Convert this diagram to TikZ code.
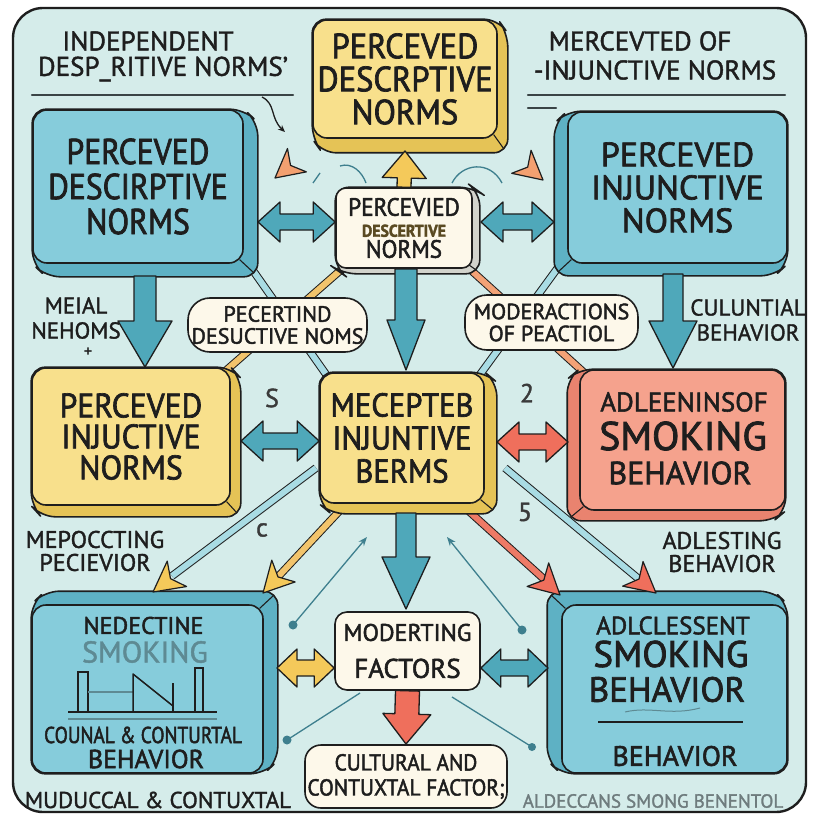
\documentclass[tikz,border=0pt]{standalone}
\usepackage{fontspec}
\setmainfont[FakeBold=1.5]{PT Sans}
\newfontfamily\wid[FakeBold=2]{PT Sans}
\newfontfamily\nar[FakeStretch=0.84,FakeBold=2]{PT Sans}
\newfontfamily\narb[FakeStretch=0.93,FakeBold=2]{PT Sans}
\newfontfamily\narc[FakeStretch=0.88,FakeBold=2]{PT Sans}
\usetikzlibrary{calc,arrows.meta}
\pgfdeclarelayer{bgl}
\pgfdeclarelayer{depthl}
\pgfsetlayers{bgl,depthl,main}

\definecolor{inkc}{HTML}{1E1E1E}
\definecolor{framebg}{HTML}{D5ECEA}
\definecolor{bluef}{HTML}{86CCDB}
\definecolor{blued}{HTML}{5EB1C4}
\definecolor{yellowf}{HTML}{F8E08C}
\definecolor{yellowd}{HTML}{E5C356}
\definecolor{redf}{HTML}{F5A28D}
\definecolor{redd}{HTML}{E9836F}
\definecolor{whitef}{HTML}{FDF8EA}
\definecolor{whited}{HTML}{D2D3CC}
\definecolor{arrblue}{HTML}{4FA8BA}
\definecolor{arryel}{HTML}{F4C95A}
\definecolor{arrred}{HTML}{EF6F5C}
\definecolor{arrorg}{HTML}{F3A070}
\definecolor{bandblue}{HTML}{A9DCE4}
\definecolor{bandyel}{HTML}{F2C46C}
\definecolor{bandorg}{HTML}{F3A276}
\definecolor{bandred}{HTML}{EE7A66}
\definecolor{thinc}{HTML}{3E7F8E}
\definecolor{grayt}{HTML}{6F7C7E}
\definecolor{brownc}{HTML}{5A4A22}
\definecolor{ulc}{HTML}{3A4446}
\definecolor{scrc}{HTML}{3A3A3A}
\definecolor{fadec}{HTML}{5E8A93}

\newcommand\fs[2]{\fontsize{#1}{#2}\selectfont}

% fat single arrow: start, end, colour, shaft half width, head half width, head length
\newcommand\fatarrow[6]{%
  \coordinate (fah) at ($(#2)!#6!(#1)$);
  \filldraw[fill=#3, draw=inkc, line width=1.3pt, line join=round]
   ($(#1)!#4!90:(#2)$) -- ($(fah)!#4!90:(#2)$) -- ($(fah)!#5!90:(#2)$) -- (#2)
   -- ($(fah)!#5!-90:(#2)$) -- ($(fah)!#4!-90:(#2)$) -- ($(#1)!#4!-90:(#2)$) -- cycle;}
% fat double arrow
\newcommand\dblarrow[6]{%
  \coordinate (dah) at ($(#2)!#6!(#1)$);
  \coordinate (dat) at ($(#1)!#6!(#2)$);
  \filldraw[fill=#3, draw=inkc, line width=1.3pt, line join=round]
   (#1) -- ($(dat)!#5!90:(#2)$) -- ($(dat)!#4!90:(#2)$) -- ($(dah)!#4!90:(#2)$) -- ($(dah)!#5!90:(#2)$) -- (#2)
   -- ($(dah)!#5!-90:(#2)$) -- ($(dah)!#4!-90:(#2)$) -- ($(dat)!#4!-90:(#2)$) -- ($(dat)!#5!-90:(#2)$) -- cycle;}
% arrow head: tip, from, colour, length, indent
\newcommand\tiphead[5]{%
  \filldraw[fill=#3, draw=inkc, line width=1.2pt, line join=round]
   (#1) -- ($(#1)!#4!28:(#2)$) -- ($(#1)!#5!(#2)$) -- ($(#1)!#4!-28:(#2)$) -- cycle;}
% slabs (3D depth) for the four directions
\newcommand\slabPP[4]{%
  \filldraw[depthc=#4] (#1.north west) -- (#1.north east) -- ([shift={(#2,#3)}]#1.north east) -- ([shift={(#2,#3)}]#1.south east) -- ([shift={(#2,#3)}]#1.south west) -- (#1.south west) -- cycle;
  \draw[crease] ([shift={(-4,-4)}]#1.south east) -- ([shift={(#2-4,#3-4)}]#1.south east);}
\newcommand\slabMP[4]{%
  \filldraw[depthc=#4] (#1.north east) -- (#1.south east) -- ([shift={(#2,#3)}]#1.south east) -- ([shift={(#2,#3)}]#1.south west) -- ([shift={(#2,#3)}]#1.north west) -- (#1.north west) -- cycle;
  \draw[crease] ([shift={(4,-4)}]#1.south west) -- ([shift={(#2+4,#3-4)}]#1.south west);}
\newcommand\slabPM[4]{%
  \filldraw[depthc=#4] (#1.north west) -- ([shift={(#2,#3)}]#1.north west) -- ([shift={(#2,#3)}]#1.north east) -- ([shift={(#2,#3)}]#1.south east) -- (#1.south east) -- (#1.south west) -- cycle;
  \draw[crease] ([shift={(-4,4)}]#1.north east) -- ([shift={(#2-4,#3+4)}]#1.north east);}
\newcommand\slabMM[4]{%
  \filldraw[depthc=#4] (#1.north east) -- ([shift={(#2,#3)}]#1.north east) -- ([shift={(#2,#3)}]#1.north west) -- ([shift={(#2,#3)}]#1.south west) -- (#1.south west) -- (#1.south east) -- cycle;
  \draw[crease] ([shift={(4,4)}]#1.north west) -- ([shift={(#2+4,#3+4)}]#1.north west);}

\begin{document}
\begin{tikzpicture}[x=1pt,y=-1pt,
  box/.style={draw=inkc, line width=1.6pt, rounded corners=14pt, align=center, inner sep=0pt, text=inkc},
  lbl/.style={align=center, inner sep=0pt, text=inkc},
  band/.style={draw=inkc, line width=1pt, double=#1, double distance=6pt},
  thinln/.style={draw=thinc, line width=1.3pt},
  depthc/.style={fill=#1, draw=inkc, line width=1.6pt, rounded corners=14pt, line join=round},
  crease/.style={draw=inkc, line width=1.1pt},
  uline/.style={draw=ulc, line width=2.2pt, line cap=round},
  scr/.style={inner sep=0pt, text=scrc, font={\fs{26}{26}}}]

\useasboundingbox (0,0) rectangle (814,818);
\begin{pgfonlayer}{bgl}
  \fill[white] (0,0) rectangle (814,818);
  \draw[fill=framebg, draw=inkc, line width=2.4pt, rounded corners=30pt] (13,8) rectangle (806,812);
\end{pgfonlayer}

% ---------- headers ----------
\node[lbl, font={\fs{27}{27}}] (h1a) at (148,41) {INDEPENDENT};
\node[lbl, font={\fs{27}{27}}] (h1b) at (163,69) {DESP\_RITIVE NORMS'};
\draw[uline] (32,95) -- (293,95);
\node[lbl, font={\fs{27}{27}}] (h2a) at (640,41) {MERCEVTED OF};
\node[lbl, font={\fs{27}{27}}] (h2b) at (655,70) {-INJUNCTIVE NORMS};
\draw[uline] (528,95) -- (785,95);
\draw[uline] (528,108) -- (556,108);

% ---------- boxes ----------
\node[box, fill=bluef, minimum width=210pt, minimum height=153pt, font={\narc\fs{36}{35}}] (tl) at (138,186.5) {PERCEVED\\DESCIRPTIVE\\NORMS};
\node[box, fill=yellowf, minimum width=184pt, minimum height=118pt, font={\narb\fs{35}{33}}] (tc) at (405,79) {PERCEVED\\DESCRPTIVE\\NORMS};
\node[box, fill=bluef, minimum width=219pt, minimum height=151pt, font={\wid\fs{34}{33}}] (tr) at (677.5,187.5) {PERCEVED\\INJUNCTIVE\\NORMS};
\node[box, fill=whitef, minimum width=136pt, minimum height=80pt, rounded corners=10pt, font={\narb\fs{25}{21}}] (cw) at (404,228) {PERCEVIED\\{\fs{17}{21}\bfseries\color{brownc}DESCERTIVE}\\NORMS};
\node[box, fill=whitef, minimum width=179pt, minimum height=54pt, rounded corners=22pt, font={\wid\fs{22}{22}}] (p1) at (277.5,325) {PECERTIND\\DESUCTIVE NOMS};
\node[box, fill=whitef, minimum width=173pt, minimum height=55pt, rounded corners=22pt, font={\wid\fs{22}{22}}] (p2) at (551.5,322.5) {MODERACTIONS\\OF PEACTIOL};
\node[box, fill=yellowf, minimum width=198pt, minimum height=137pt, font={\narb\fs{34}{31}}] (ml) at (131,436.5) {PERCEVED\\INJUCTIVE\\NORMS};
\node[box, fill=yellowf, minimum width=164pt, minimum height=130pt, font={\narb\fs{33}{33}}] (mc) at (402,438) {MECEPTEB\\INJUNTIVE\\BERMS};
\node[box, fill=redf, minimum width=205pt, minimum height=140pt] (mr) at (682.5,440) {};
\node[box, fill=bluef, minimum width=231pt, minimum height=168pt] (bl) at (147.5,689) {};
\node[box, fill=whitef, minimum width=145pt, minimum height=78pt, rounded corners=12pt, font={\wid\fs{24}{37}}] (mf) at (407.5,651) {MODERTING\\{\fs{27}{37}FACTORS}};
\node[box, fill=whitef, minimum width=202pt, minimum height=63pt, rounded corners=16pt, font={\narb\fs{23}{25}}] (cf) at (406,776.5) {CULTURAL AND\\CONTUXTAL FACTOR;};
\node[box, fill=bluef, minimum width=225pt, minimum height=168pt] (br) at (674.5,689) {};

% texts inside red box
\node[lbl, font={\wid\fs{27}{27}}] (mr1) at (684,402) {ADLEENINSOF};
\node[lbl, font={\wid\fs{40}{40}}] (mr2) at (683,436) {SMOKING};
\node[lbl, font={\wid\fs{32}{32}}] (mr3) at (680,473) {BEHAVIOR};

% texts and chart inside bottom-left box
\node[lbl, font={\wid\fs{24}{24}}] (bl1) at (143.5,625.5) {NEDECTINE};
\node[lbl, font={\fs{30}{30}}, text=fadec] (bl2) at (145,652) {SMOKING};
\node[lbl, font={\nar\fs{23}{23}}] (bl3) at (143,735) {COUNAL \& CONTURTAL};
\node[lbl, font={\wid\fs{26}{26}}] (bl4) at (146,759) {BEHAVIOR};
\draw[inkc, line width=1.5pt, line join=round] (68,712) -- (217,712);
\draw[fadec, line width=1.2pt] (68,719) -- (217,719);
\draw[inkc, line width=1.5pt] (78,712) -- (78,672) -- (88,672) -- (88,712);
\draw[fadec, line width=1.2pt] (88,692) -- (133,692);
\draw[inkc, line width=1.5pt, line join=round] (133,712) -- (133,674) -- (173,706);
\draw[inkc, line width=1.5pt] (173,683) -- (173,712);
\draw[inkc, line width=1.5pt] (195,712) -- (195,668) -- (203,668) -- (203,712);

% texts inside bottom-right box
\node[lbl, font={\wid\fs{25}{25}}] (br1) at (673,625.5) {ADLCLESSENT};
\node[lbl, font={\wid\fs{37}{37}}] (br2) at (671,654) {SMOKING};
\node[lbl, font={\wid\fs{35}{35}}] (br3) at (667,689.5) {BEHAVIOR};
\draw[inkc, line width=1.6pt] (598,722) -- (743,722);
\draw[fadec, line width=1pt] (625,712) .. controls (650,706) and (670,716) .. (700,708);
\node[lbl, font={\wid\fs{28}{28}}] (br4) at (675,756) {BEHAVIOR};

% ---------- side labels ----------
\node[lbl, font={\fs{23}{25}}] (s1) at (76,318) {MEIAL\\NEHOMS};
\node[lbl, font={\fs{16}{16}}] (s1p) at (88,352) {+};
\node[lbl, font={\fs{23}{25}}] (s2) at (748,320) {CULUNTIAL\\BEHAVIOR};
\node[lbl, font={\fs{24}{23}}] (s3) at (95,551) {MEPOCCTING\\PECIEVIOR};
\node[lbl, font={\fs{24}{23}}] (s4) at (722,552) {ADLESTING\\BEHAVIOR};
\node[lbl, font={\fs{23}{23}}] (s5) at (158,800) {MUDUCCAL \& CONTUXTAL};
\node[lbl, font={\fs{19}{19}}, text=grayt] (s6) at (653,801) {ALDECCANS SMONG BENENTOL};

% scribbles
\node[scr] (g1) at (272,398) {S};
\node[scr] (g2) at (527,393) {2};
\node[scr] (g3) at (525,512) {5};
\node[scr] (g4) at (262,530) {c};

% ---------- depth slabs ----------
\begin{pgfonlayer}{depthl}
  \slabPP{tl}{14}{13}{blued}
  \slabPP{tc}{10}{14}{yellowd}
  \slabMP{tr}{-13}{12}{blued}
  \slabPP{cw}{7}{5}{whited}
  \slabPP{ml}{10}{11}{yellowd}
  \slabPP{mc}{12}{10}{yellowd}
  \slabMP{mr}{-12}{10}{redd}
  \slabPM{bl}{14}{-13}{blued}
  \slabMM{br}{-14}{-13}{blued}
\end{pgfonlayer}

% ---------- background bands ----------
\begin{pgfonlayer}{bgl}
  \draw[band=bandyel] (350,262) -- (222,374);
  \draw[band=bandblue] (247,262) -- (330,380);
  \draw[band=bandorg] (462,262) -- (590,378);
  \draw[band=bandblue] (562,262) -- (476,380);
  \draw[band=bandyel] (345,505) -- (275,580);
  \draw[band=bandblue] (316,468) -- (172,576);
  \draw[band=bandred] (462,505) -- (545,580);
  \draw[band=bandblue] (505,468) -- (640,580);
\end{pgfonlayer}

% band heads
\coordinate (q1a) at (263,593); \coordinate (q1b) at (345,505);
\coordinate (q2a) at (153,592); \coordinate (q2b) at (316,468);
\coordinate (q3a) at (560,595); \coordinate (q3b) at (462,505);
\coordinate (q4a) at (656,593); \coordinate (q4b) at (505,468);
\tiphead{q1a}{q1b}{arryel}{34pt}{22pt}
\tiphead{q2a}{q2b}{arryel}{34pt}{22pt}
\tiphead{q3a}{q3b}{arrred}{34pt}{22pt}
\tiphead{q4a}{q4b}{arrred}{34pt}{22pt}

% orange loose heads near the top box
\coordinate (o1a) at (275,178); \coordinate (o1b) at (312,148);
\coordinate (o2a) at (543,180); \coordinate (o2b) at (505,148);
\tiphead{o1a}{o1b}{arrorg}{32pt}{20pt}
\tiphead{o2a}{o2b}{arrorg}{32pt}{20pt}

% ---------- fat arrows ----------
\coordinate (a1s) at (258,222); \coordinate (a1e) at (cw.west |- a1s);
\dblarrow{a1s}{a1e}{arrblue}{8pt}{20pt}{22pt}
\coordinate (a2s) at (481,222); \coordinate (a2e) at (554,222);
\dblarrow{a2s}{a2e}{arrblue}{8pt}{20pt}{22pt}
\coordinate (yt) at (405,151);
\fatarrow{cw.north}{yt}{arryel}{7pt}{22pt}{27pt}
\coordinate (d1s) at (145,276); \coordinate (d1e) at (145,367);
\fatarrow{d1s}{d1e}{arrblue}{11pt}{27pt}{46pt}
\coordinate (d2s) at (406,269); \coordinate (d2e) at (406,370);
\fatarrow{d2s}{d2e}{arrblue}{11pt}{19pt}{50pt}
\coordinate (d3s) at (673,274); \coordinate (d3e) at (673,368);
\fatarrow{d3s}{d3e}{arrblue}{10pt}{24pt}{47pt}
\coordinate (m1s) at (241,441); \coordinate (m1e) at (mc.west |- m1s);
\dblarrow{m1s}{m1e}{arrblue}{8pt}{20pt}{22pt}
\coordinate (m2s) at (497,442); \coordinate (m2e) at (568,442);
\dblarrow{m2s}{m2e}{arrred}{8pt}{20pt}{22pt}
\coordinate (c1s) at (406,513); \coordinate (c1e) at (406,609);
\fatarrow{c1s}{c1e}{arrblue}{10pt}{24pt}{52pt}
\coordinate (c2e) at (406,744);
\fatarrow{mf.south}{c2e}{arrred}{12pt}{24pt}{30pt}
\coordinate (b1s) at (277,668); \coordinate (b1e) at (mf.west |- b1s);
\dblarrow{b1s}{b1e}{arryel}{8pt}{19pt}{20pt}
\coordinate (b2s) at (mf.east |- b1s); \coordinate (b2e) at (548,668);
\dblarrow{b2s}{b2e}{arrblue}{8pt}{19pt}{20pt}

% ---------- thin arrows ----------
\coordinate (t1s) at (293,625); \coordinate (t1e) at (367,537);
\draw[thinln, -{Stealth[length=9pt,width=7pt]}] (t1s) -- (t1e);
\fill[thinc] (t1s) circle (4.5);
\coordinate (t2s) at (522,630); \coordinate (t2e) at (447,537);
\draw[thinln, -{Stealth[length=9pt,width=7pt]}] (t2s) -- (t2e);
\fill[thinc] (t2s) circle (4.5);
\coordinate (t3s) at (360,693); \coordinate (t3e) at (287,740);
\draw[thinln] (t3s) -- (t3e);
\fill[thinc] (t3e) circle (4.5);
\coordinate (t4s) at (452,697); \coordinate (t4e) at (532,747);
\draw[thinln] (t4s) -- (t4e);
\fill[thinc] (t4e) circle (4);

% small strokes near the top
\draw[inkc, line width=1.3pt, -{Stealth[length=7pt,width=6pt]}] (262,97) .. controls (276,104) and (270,118) .. (285,132);
\draw[thinc, line width=1.3pt] (340,166) .. controls (352,162) and (362,172) .. (366,183);
\draw[thinc, line width=1.3pt] (313,183) -- (320,173);
\draw[thinc, line width=1.3pt] (452,183) .. controls (462,163) and (490,160) .. (502,183);

\end{tikzpicture}
\end{document}
